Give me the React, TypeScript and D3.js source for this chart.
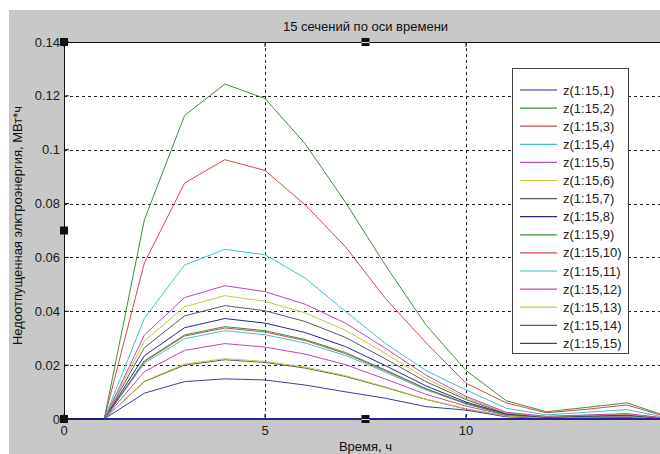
import React from 'react';
import * as d3 from 'd3';

// time points (hours)
const hours = [1, 2, 3, 4, 5, 6, 7, 8, 9, 10, 11, 12, 13, 14, 15];

// z(1:15,k), k = 1..15
const s1 = [0, 0, 0, 0, 0, 0, 0, 0, 0, 0, 0, 0, 0, 0, 0];
const s2 = [0, 0.074, 0.1127, 0.1244, 0.119, 0.1022, 0.0805, 0.057, 0.035, 0.018, 0.0068, 0.0027, 0.0043, 0.006, 0.001];
const s3 = [0, 0.058, 0.0876, 0.0963, 0.0923, 0.0795, 0.064, 0.0447, 0.0284, 0.0133, 0.006, 0.0023, 0.0036, 0.0052, 0.0008];
const s4 = [0, 0.0374, 0.0572, 0.063, 0.061, 0.0523, 0.04, 0.028, 0.018, 0.0108, 0.004, 0.0015, 0.0025, 0.0035, 0.0005];
const s5 = [0, 0.0312, 0.0451, 0.0495, 0.0473, 0.0426, 0.0356, 0.0262, 0.0163, 0.0084, 0.0025, 0.001, 0.0015, 0.002, 0.0003];
const s6 = [0, 0.0289, 0.0417, 0.0458, 0.0437, 0.0394, 0.033, 0.0243, 0.0151, 0.0078, 0.0023, 0.0009, 0.0014, 0.0018, 0.0003];
const s7 = [0, 0.0265, 0.0383, 0.0421, 0.0402, 0.0362, 0.0303, 0.0223, 0.0139, 0.0072, 0.0021, 0.0008, 0.0013, 0.0017, 0.0003];
const s8 = [0, 0.0235, 0.0339, 0.0373, 0.0356, 0.0321, 0.0269, 0.0198, 0.0123, 0.0063, 0.0019, 0.0007, 0.0011, 0.0015, 0.0002];
const s9 = [0, 0.0216, 0.0312, 0.0343, 0.0328, 0.0295, 0.0247, 0.0182, 0.0113, 0.0058, 0.0017, 0.0007, 0.001, 0.0014, 0.0002];
const s10 = [0, 0.0213, 0.0308, 0.0338, 0.0323, 0.0291, 0.0243, 0.0179, 0.0112, 0.0057, 0.0017, 0.0007, 0.001, 0.0014, 0.0002];
const s11 = [0, 0.0207, 0.0298, 0.0328, 0.0313, 0.0282, 0.0236, 0.0174, 0.0108, 0.0056, 0.0016, 0.0007, 0.001, 0.0013, 0.0002];
const s12 = [0, 0.0176, 0.0255, 0.028, 0.0267, 0.0241, 0.0202, 0.0148, 0.0092, 0.0048, 0.0014, 0.0006, 0.0008, 0.0011, 0.0002];
const s13 = [0, 0.0141, 0.0204, 0.0224, 0.0214, 0.0193, 0.0161, 0.0119, 0.0074, 0.0038, 0.0011, 0.0004, 0.0007, 0.0009, 0.0001];
const s14 = [0, 0.0139, 0.02, 0.022, 0.021, 0.0189, 0.0158, 0.0117, 0.0073, 0.0037, 0.0011, 0.0004, 0.0007, 0.0009, 0.0001];
const s15 = [0, 0.0096, 0.0139, 0.0149, 0.0145, 0.0126, 0.0101, 0.0077, 0.0046, 0.0033, 0.0008, 0.0003, 0.0005, 0.0006, 0.0001];

const seriesValues = [s1, s2, s3, s4, s5, s6, s7, s8, s9, s10, s11, s12, s13, s14, s15];
const seriesNames = seriesValues.map((_, i) => `z(1:15,${i + 1})`);

const xTicks = [0, 5, 10, 15];
const yTicks = [0, 0.02, 0.04, 0.06, 0.08, 0.1, 0.12, 0.14];

// matlab-ish colour order, a bit washed out like the screenshot
const colors = ['#26268f', '#3f8f3f', '#cf4a4a', '#45c2c2', '#b94ab9', '#c9c63f', '#5a5a5a'];
const lastBlue = '#3a3aa8';

const W = 660;
const H = 454;
const left = 64;
const right = 667;
const top = 42;
const bottom = 419;

const font = 'Liberation Sans, Arial, sans-serif';

const App = () => {
  const x = d3.scaleLinear().domain([0, 15]).range([left, right]);
  const y = d3.scaleLinear().domain([0, 0.14]).range([bottom, top]);

  const line = d3
    .line<number>()
    .x((_, i) => x(hours[i]))
    .y((d) => y(d));

  const colorOf = (i: number) => (i === 14 ? lastBlue : colors[i % colors.length]);

  const midX = (left + right) / 2;
  const midY = (top + bottom) / 2;

  const legX = 512;
  const legY = 68;
  const legStep = 18.1;

  const handle = (cx: number, cy: number, key: string, bar = false) => (
    <g key={key}>
      <rect x={cx - 4} y={cy - 4} width={8} height={8} fill="#111" />
      {bar && <line x1={cx - 4} x2={cx + 4} y1={cy + 0.5} y2={cy + 0.5} stroke="#ddd" strokeWidth={1} />}
    </g>
  );

  return (
    <svg
      width={W}
      height={H}
      style={{ position: 'absolute', left: 0, top: 0, fontFamily: font }}
    >
      <defs>
        <clipPath id="plotClip">
          <rect x={left} y={top - 1} width={right - left} height={bottom - top + 2} />
        </clipPath>
      </defs>
      <rect x={0} y={0} width={W} height={H} fill="#fff" />
      <rect x={9} y={10} width={W - 9} height={H - 10} fill="#c8c8c8" />
      <rect x={left} y={top} width={right - left} height={bottom - top} fill="#fff" />

      {/* grid */}
      {yTicks.slice(1, -1).map((t) => (
        <line
          key={'gy' + t}
          x1={left}
          x2={right}
          y1={Math.round(y(t)) + 0.5}
          y2={Math.round(y(t)) + 0.5}
          stroke="#222"
          strokeDasharray="3,3"
        />
      ))}
      {xTicks.slice(1, -1).map((t) => (
        <line
          key={'gx' + t}
          x1={Math.round(x(t)) + 0.5}
          x2={Math.round(x(t)) + 0.5}
          y1={top}
          y2={bottom}
          stroke="#222"
          strokeDasharray="3,3"
        />
      ))}

      {/* ticks, inward */}
      {yTicks.map((t) => (
        <line key={'ty' + t} x1={left} x2={left + 5} y1={y(t)} y2={y(t)} stroke="#111" />
      ))}
      {xTicks.map((t) => (
        <g key={'tx' + t}>
          <line x1={x(t)} x2={x(t)} y1={bottom} y2={bottom - 5} stroke="#111" />
          <line x1={x(t)} x2={x(t)} y1={top} y2={top + 5} stroke="#111" />
        </g>
      ))}

      {/* series */}
      <g clipPath="url(#plotClip)">
        {seriesValues
          .map((vals, i) => ({ vals, i }))
          .reverse()
          .map(({ vals, i }) => (
            <path
              key={'s' + i}
              d={line(vals) || ''}
              fill="none"
              stroke={colorOf(i)}
              strokeWidth={i === 0 ? 2 : 1}
            />
          ))}
      </g>

      {/* axes box */}
      <line x1={left} x2={right} y1={top + 0.5} y2={top + 0.5} stroke="#111" />
      <line x1={left + 0.5} x2={left + 0.5} y1={top} y2={bottom} stroke="#111" />
      <line x1={left} x2={x(1)} y1={bottom} y2={bottom} stroke="#1c1c6e" strokeWidth={2} />

      {/* tick labels */}
      {yTicks.map((t) => (
        <text
          key={'ly' + t}
          x={left - 4}
          y={y(t) + 4.5}
          textAnchor="end"
          fontSize={13}
          fill="#1a1a1a"
        >
          {d3.format('~g')(t)}
        </text>
      ))}
      {xTicks.slice(0, -1).map((t) => (
        <text key={'lx' + t} x={x(t)} y={bottom + 16} textAnchor="middle" fontSize={13} fill="#1a1a1a">
          {t}
        </text>
      ))}

      {/* titles */}
      <text x={midX} y={31} textAnchor="middle" fontSize={13} fill="#111">
        15 сечений по оси времени
      </text>
      <text x={midX} y={451} textAnchor="middle" fontSize={13} fill="#111">
        Время, ч
      </text>
      <text
        transform={`translate(22, ${midY - 5}) rotate(-90)`}
        textAnchor="middle"
        fontSize={13}
        fill="#111"
      >
        Недоотпущенная элктроэнергия, МВт*ч
      </text>

      {/* legend */}
      <rect
        x={legX + 0.5}
        y={legY + 0.5}
        width={116}
        height={285}
        fill="#fff"
        stroke="#444"
      />
      {seriesNames.map((name, i) => {
        const cy = legY + 22 + i * legStep;
        return (
          <g key={'lg' + i}>
            <line x1={legX + 8} x2={legX + 45} y1={cy} y2={cy} stroke={colorOf(i)} strokeWidth={1.2} />
            <text x={legX + 51} y={cy + 4.5} fontSize={13} fill="#222">
              {name}
            </text>
          </g>
        );
      })}

      {/* edit-mode handles */}
      {handle(left, top, 'h1')}
      {handle(left, midY, 'h2')}
      {handle(left, bottom, 'h3')}
      {handle(midX, top, 'h4', true)}
      {handle(midX, bottom, 'h5', true)}
    </svg>
  );
};

export default App;
